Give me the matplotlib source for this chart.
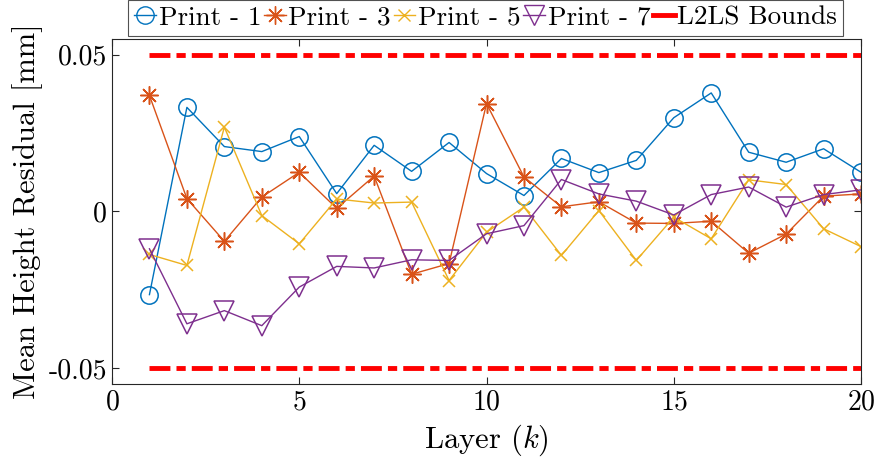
import numpy as np
import matplotlib
matplotlib.use('Agg')
import matplotlib.pyplot as plt
from matplotlib.lines import Line2D

plt.rcParams['font.family'] = 'serif'
plt.rcParams['font.serif'] = ['cmr10']
plt.rcParams['mathtext.fontset'] = 'cm'
plt.rcParams['axes.formatter.use_mathtext'] = True

# data
layers = np.arange(1, 21)
print1 = [-0.0265, 0.0332, 0.0207, 0.0191, 0.0239, 0.0057, 0.0211, 0.0128, 0.0220, 0.0121,
          0.0051, 0.0169, 0.0124, 0.0163, 0.0299, 0.0378, 0.0189, 0.0157, 0.0200, 0.0125]
print3 = [0.0370, 0.0041, -0.0095, 0.0046, 0.0125, 0.0010, 0.0113, -0.0200, -0.0166, 0.0344,
          0.0110, 0.0015, 0.0031, -0.0037, -0.0038, -0.0031, -0.0133, -0.0072, 0.0049, 0.0056]
print5 = [-0.0137, -0.0172, 0.0269, -0.0013, -0.0103, 0.0040, 0.0027, 0.0030, -0.0220, -0.0066,
          0.0014, -0.0140, 0.0003, -0.0156, -0.0018, -0.0087, 0.0101, 0.0086, -0.0055, -0.0112]
print7 = [-0.0119, -0.0358, -0.0316, -0.0364, -0.0241, -0.0175, -0.0180, -0.0154, -0.0156, -0.0071,
          -0.0045, 0.0102, 0.0056, 0.0033, -0.0011, 0.0054, 0.0078, 0.0014, 0.0054, 0.0069]
bound = 0.05
labels = ['Print - 1', 'Print - 3', 'Print - 5', 'Print - 7', 'L2LS Bounds']

c1, c3, c5, c7 = '#0072BD', '#D95319', '#EDB120', '#7E2F8E'

fig = plt.figure(figsize=(8.77, 4.63), dpi=100)
ax = fig.add_axes([0.1277, 0.1706, 0.8541, 0.7452])

ax.plot(layers, print1, color=c1, lw=1, marker='o', ms=12.5, mfc='none', mew=1.1)
ax.plot(layers, print3, color=c3, lw=1, marker=(8, 2, 0), ms=13, mew=1.1)
ax.plot(layers, print5, color=c5, lw=1, marker='x', ms=9, mew=1.1)
ax.plot(layers, print7, color=c7, lw=1, marker='v', ms=14, mfc='none', mew=1.1)
dash = (4.3, 1.25, 1.9, 1.25)
ax.plot([layers[0], layers[-1]], [bound, bound], color='red', lw=3.5, dashes=dash)
ax.plot([layers[0], layers[-1]], [-bound, -bound], color='red', lw=3.5, dashes=dash)

ax.set_xlim(0, 20)
ax.set_ylim(-0.055, 0.055)
ax.set_xticks([0, 5, 10, 15, 20])
ax.set_yticks([-0.05, 0, 0.05])
ax.set_yticklabels(['-0.05', '0', '0.05'])
ax.tick_params(direction='in', length=5, labelsize=20, top=True, right=True, color='#262626')
for s in ax.spines.values():
    s.set_linewidth(0.8)
    s.set_color('#262626')
ax.set_xlabel('Layer ($k$)', fontsize=22, labelpad=5)
ax.set_ylabel('Mean Height Residual [mm]', fontsize=22, labelpad=4)

handles = [
    Line2D([], [], color=c1, lw=1, marker='o', ms=12.5, mfc='none'),
    Line2D([], [], color=c3, lw=1, marker=(8, 2, 0), ms=13),
    Line2D([], [], color=c5, lw=1, marker='x', ms=9),
    Line2D([], [], color=c7, lw=1, marker='v', ms=14, mfc='none'),
    Line2D([], [], color='red', lw=3.5),
]
leg = fig.legend(handles, labels, loc='upper center', bbox_to_anchor=(0.554, 1.0), ncol=5,
                 fontsize=19.5, frameon=True, fancybox=False, edgecolor='#262626',
                 handlelength=0.8, handletextpad=0.1, columnspacing=0.1, borderpad=0.22,
                 borderaxespad=0.0)
leg.get_frame().set_linewidth(0.8)

fig.savefig('out.png', dpi=100)
